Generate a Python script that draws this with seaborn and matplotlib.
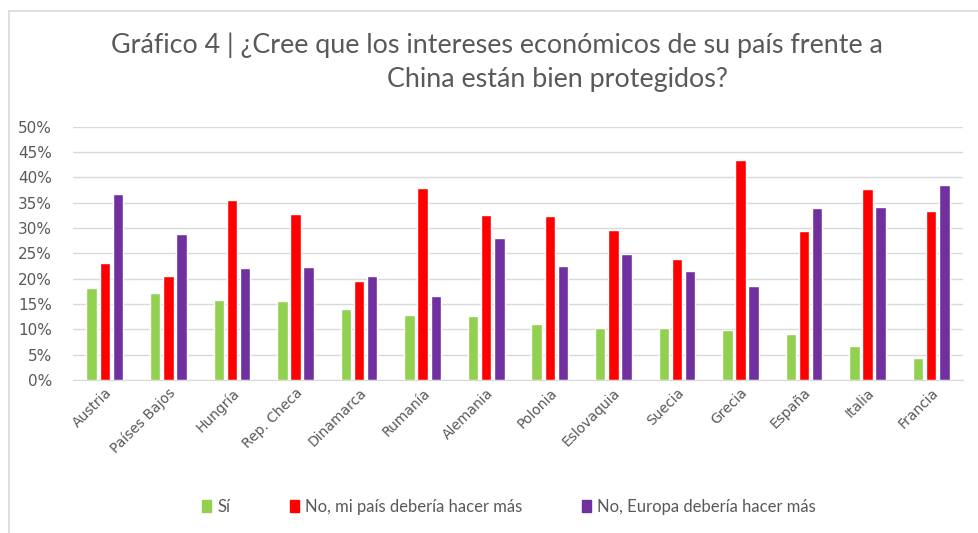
import pandas as pd
import numpy as np
import seaborn as sns
from matplotlib import pyplot as plt
from matplotlib.lines import Line2D
from matplotlib.patches import Patch
from matplotlib.ticker import PercentFormatter

paises = ["Austria", "Países Bajos", "Hungría", "Rep. Checa", "Dinamarca", "Rumanía",
          "Alemania", "Polonia", "Eslovaquia", "Suecia", "Grecia", "España", "Italia", "Francia"]
si = [18.1, 17.2, 15.9, 15.6, 14.0, 12.8, 12.6, 11.1, 10.3, 10.2, 9.9, 9.1, 6.8, 4.4]
no_pais = [23.2, 20.5, 35.6, 32.8, 19.6, 37.9, 32.6, 32.4, 29.7, 23.9, 43.4, 29.5, 37.7, 33.4]
no_europa = [36.7, 28.8, 22.1, 22.3, 20.5, 16.5, 28.1, 22.6, 24.9, 21.6, 18.6, 33.9, 34.1, 38.6]
series = ["Sí", "No, mi país debería hacer más", "No, Europa debería hacer más"]
colores = ["#92D050", "#FF0000", "#7030A0"]

df = pd.DataFrame({"pais": paises * 3,
                   "serie": np.repeat(series, len(paises)),
                   "valor": si + no_pais + no_europa})

sns.set_style("white")
plt.rcParams["font.family"] = ["Lato", "DejaVu Sans"]
gris = "#595959"

fig = plt.figure(figsize=(9.79, 5.33), dpi=100)
ax = fig.add_axes([0.0746, 0.287, 0.909, 0.475])
sns.barplot(data=df, x="pais", y="valor", hue="serie", palette=colores,
            width=0.62, gap=0.2, saturation=1, ax=ax, legend=False)

ax.set_ylim(0, 50)
ax.set_yticks(range(0, 51, 5))
ax.yaxis.set_major_formatter(PercentFormatter(decimals=0))
ax.set_xlim(-0.5, len(paises) - 0.5)
ax.grid(axis="y", color="#d9d9d9", lw=1)
ax.set_axisbelow(True)
for s in ["top", "right", "left"]:
    ax.spines[s].set_visible(False)
ax.spines["bottom"].set_color("#d9d9d9")
ax.set_xlabel("")
ax.set_ylabel("")
ax.tick_params(axis="y", colors=gris, length=0, pad=15)
ax.tick_params(axis="x", colors=gris, length=0, pad=4)
for lab in ax.get_yticklabels():
    lab.set_fontfamily("DejaVu Sans")
    lab.set_fontsize(11)
for lab in ax.get_xticklabels():
    lab.set_fontfamily("DejaVu Sans")
    lab.set_fontsize(10)
    lab.set_rotation(45)
    lab.set_ha("right")
    lab.set_rotation_mode("anchor")

fig.text(0.508, 0.916, "Gráfico 4 | ¿Cree que los intereses económicos de su país frente a",
         ha="center", va="center", fontsize=19.4, color=gris)
fig.text(0.569, 0.85, "China están bien protegidos?",
         ha="center", va="center", fontsize=19.4, color=gris)

handles = [Patch(color=c, label=s) for c, s in zip(colores, series)]
fig.legend(handles=handles, loc="center", bbox_to_anchor=(0.52, 0.049), ncol=3,
           frameon=False, fontsize=12, labelcolor=gris, handlelength=0.55,
           handleheight=0.75, handletextpad=0.35, columnspacing=3.6)

fig.add_artist(Line2D([0.0092, 1], [0.979, 0.979], color="#d9d9d9", lw=1.2))
fig.add_artist(Line2D([0.0092, 0.0092], [0, 0.979], color="#d9d9d9", lw=1.2))

fig.savefig("out.png", dpi=100)
